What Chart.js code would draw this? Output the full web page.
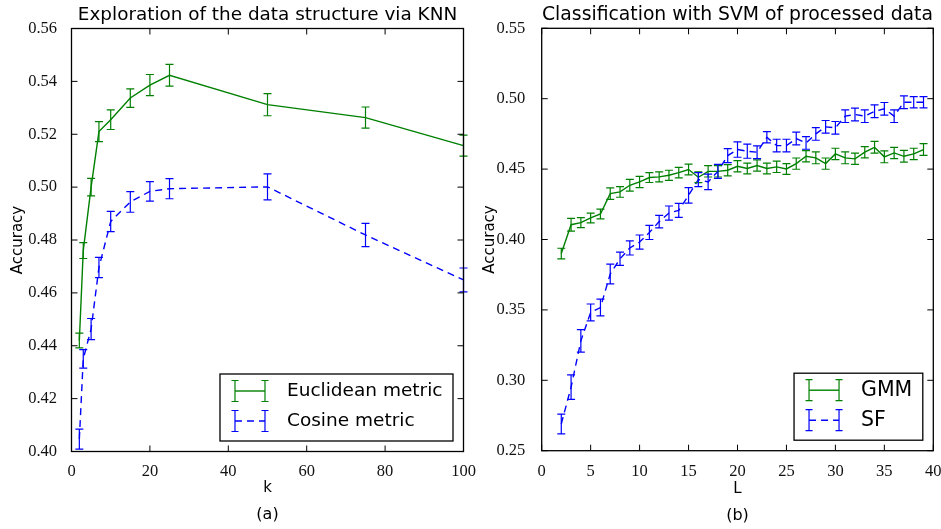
<!DOCTYPE html>
<html><head><meta charset="utf-8">
<script src="https://cdn.jsdelivr.net/npm/chart.js@4.4.0/dist/chart.umd.min.js"></script>
<style>
html,body{margin:0;padding:0;background:#fff;}
#wrap{position:relative;width:941px;height:529px;overflow:hidden;background:#fff;}
.box{position:absolute;top:0;height:529px;}
#ba{left:0;width:490px;}
#bb{left:470px;width:471px;}
canvas{display:block;}
</style></head><body>
<div id="wrap">
  <div class="box" id="ba"><canvas id="ca"></canvas></div>
  <div class="box" id="bb"><canvas id="cb"></canvas></div>
</div>
<script>
// ---------------- data: panel (a) ----------------
const knnK = [2, 3, 5, 7, 10, 15, 20, 25, 50, 75, 100];
const euclideanAcc = [0.442, 0.476, 0.500, 0.521, 0.5255, 0.5337, 0.5386, 0.5423, 0.5312, 0.5263, 0.5157];
const euclideanErr = [0.0028, 0.003, 0.0033, 0.0038, 0.0037, 0.0035, 0.004, 0.0041, 0.0042, 0.004, 0.004];
const cosineAcc = [0.4047, 0.435, 0.4463, 0.4696, 0.487, 0.4944, 0.4984, 0.4994, 0.5001, 0.4819, 0.4649];
const cosineErr = [0.0038, 0.0035, 0.004, 0.0038, 0.0038, 0.0039, 0.0037, 0.0038, 0.0049, 0.0044, 0.0045];
const knnXTicks = [0, 20, 40, 60, 80, 100];
const knnYTicks = [0.40, 0.42, 0.44, 0.46, 0.48, 0.50, 0.52, 0.54, 0.56];

// ---------------- data: panel (b) ----------------
const svmL = [2, 3, 4, 5, 6, 7, 8, 9, 10, 11, 12, 13, 14, 15, 16, 17, 18, 19, 20, 21,
              22, 23, 24, 25, 26, 27, 28, 29, 30, 31, 32, 33, 34, 35, 36, 37, 38, 39];
const gmmAcc = [0.390, 0.4105, 0.412, 0.4153, 0.4181, 0.4326, 0.4338, 0.4385, 0.4409, 0.444,
                0.4445, 0.4456, 0.4475, 0.4497, 0.4442, 0.4484, 0.4484, 0.4492, 0.4520, 0.4504,
                0.4525, 0.4504, 0.4516, 0.4501, 0.4539, 0.4591, 0.4580, 0.4539, 0.4608, 0.4580,
                0.4573, 0.4620, 0.4655, 0.4587, 0.4615, 0.4591, 0.4608, 0.4639];
const gmmErr = [0.0038, 0.0045, 0.0035, 0.0035, 0.0035, 0.0041, 0.0038, 0.0042, 0.004, 0.0035,
                0.0036, 0.0036, 0.0037, 0.0038, 0.0038, 0.004, 0.004, 0.004, 0.004, 0.0038,
                0.004, 0.0038, 0.004, 0.0038, 0.004, 0.004, 0.0042, 0.004, 0.004, 0.0042,
                0.004, 0.004, 0.0042, 0.0042, 0.004, 0.0042, 0.004, 0.0042];
const sfAcc = [0.269, 0.2951, 0.328, 0.3482, 0.3517, 0.3755, 0.3863, 0.394, 0.3982, 0.405,
               0.4127, 0.4188, 0.4207, 0.4314, 0.4425, 0.4409, 0.4484, 0.4596, 0.4639, 0.4627,
               0.462, 0.4726, 0.4667, 0.4667, 0.4717, 0.4686, 0.475, 0.48, 0.4793, 0.4876,
               0.4888, 0.4876, 0.4911, 0.4928, 0.4876, 0.4975, 0.4975, 0.4975];
const sfErr = [0.007, 0.0087, 0.008, 0.006, 0.006, 0.007, 0.0047, 0.005, 0.005, 0.005,
               0.0045, 0.005, 0.005, 0.0055, 0.005, 0.0055, 0.005, 0.005, 0.0055, 0.005,
               0.0045, 0.004, 0.0045, 0.0045, 0.0045, 0.0045, 0.0045, 0.0045, 0.0045, 0.0045,
               0.0045, 0.0045, 0.0045, 0.0045, 0.0045, 0.0045, 0.004, 0.004];
const svmXTicks = [0, 5, 10, 15, 20, 25, 30, 35, 40];
const svmYTicks = [0.25, 0.30, 0.35, 0.40, 0.45, 0.50, 0.55];

// ---------------- styling ----------------
const GREEN = '#008000';
const BLUE = '#0000ff';
const SANS = "'DejaVu Sans', sans-serif";
const SERIF = "'Liberation Serif', 'Times New Roman', serif";
const H = 529;

const errorBarPlugin = {
  id: 'errorBars',
  afterDatasetsDraw(chart) {
    const ctx = chart.ctx, ys = chart.scales.y;
    chart.data.datasets.forEach((ds, i) => {
      if (!ds.errors) return;
      const meta = chart.getDatasetMeta(i);
      ctx.save();
      ctx.strokeStyle = ds.borderColor;
      ctx.lineWidth = 1.2;
      ctx.setLineDash([]);
      ctx.beginPath();
      meta.data.forEach((pt, j) => {
        const v = ds.data[j].y, e = ds.errors[j];
        const y0 = ys.getPixelForValue(v - e), y1 = ys.getPixelForValue(v + e);
        const cx = pt.x, cw = 4;
        ctx.moveTo(cx, y0); ctx.lineTo(cx, y1);
        ctx.moveTo(cx - cw, y0); ctx.lineTo(cx + cw, y0);
        ctx.moveTo(cx - cw, y1); ctx.lineTo(cx + cw, y1);
      });
      ctx.stroke();
      ctx.restore();
    });
  }
};

const frameLegendPlugin = {
  id: 'boxLegend',
  afterDraw(chart, args, opts) {
    const {ctx, chartArea: a, scales: {x, y}} = chart;
    const TL = 6;
    ctx.save();
    // inward ticks on all four sides
    ctx.strokeStyle = '#000';
    ctx.lineWidth = 1;
    ctx.beginPath();
    x.ticks.forEach(t => {
      const px = x.getPixelForValue(t.value);
      ctx.moveTo(px, a.bottom); ctx.lineTo(px, a.bottom - TL);
      ctx.moveTo(px, a.top); ctx.lineTo(px, a.top + TL);
    });
    y.ticks.forEach(t => {
      const py = y.getPixelForValue(t.value);
      ctx.moveTo(a.left, py); ctx.lineTo(a.left + TL, py);
      ctx.moveTo(a.right, py); ctx.lineTo(a.right - TL, py);
    });
    ctx.stroke();
    ctx.lineWidth = 1.3;
    ctx.strokeRect(a.left, a.top, a.right - a.left, a.bottom - a.top);

    // legend box in lower right
    const ds = chart.data.datasets;
    ctx.font = opts.fontSize + 'px ' + SANS;
    const textW = Math.max(...ds.map(d => ctx.measureText(d.label).width));
    const padL = 15, handle = 30, gap = 22, padR = 10.5, h = 67;
    const w = padL + handle + gap + textW + padR;
    const right = a.right - 10.5, bottom = a.bottom - 10.5;
    const left = right - w, top = bottom - h;
    ctx.fillStyle = '#fff';
    ctx.fillRect(left, top, w, h);
    ctx.strokeStyle = '#000';
    ctx.lineWidth = 1.3;
    ctx.strokeRect(left, top, w, h);
    const rows = [top + 17, top + 47];
    ds.forEach((d, i) => {
      const yy = rows[i], x0 = left + padL, x1 = x0 + handle;
      ctx.strokeStyle = d.borderColor;
      ctx.lineWidth = 1.4;
      ctx.setLineDash(d.borderDash || []);
      ctx.beginPath(); ctx.moveTo(x0, yy); ctx.lineTo(x1, yy); ctx.stroke();
      ctx.setLineDash([]);
      ctx.lineWidth = 1.2;
      ctx.beginPath();
      [x0, x1].forEach(xx => {
        ctx.moveTo(xx, yy - 10.5); ctx.lineTo(xx, yy + 10.5);
        ctx.moveTo(xx - 3.5, yy - 10.5); ctx.lineTo(xx + 3.5, yy - 10.5);
        ctx.moveTo(xx - 3.5, yy + 10.5); ctx.lineTo(xx + 3.5, yy + 10.5);
      });
      ctx.stroke();
      ctx.fillStyle = '#000';
      ctx.textBaseline = 'middle';
      ctx.textAlign = 'left';
      ctx.fillText(d.label, x1 + gap, yy);
    });
    ctx.restore();
  }
};

function buildChart(canvasId, spec, L) {
  const titleFont = spec.titleSize, titleLH = titleFont * 1.2;
  const titlePadTop = L.titleMid - titleLH / 2;
  const titlePadBottom = L.plotTop - titlePadTop - titleLH;
  const subLH = 16 * 1.2;
  const subTop = L.panelMid - subLH / 2;
  const subPadBottom = H - subTop - subLH;
  const xAxisHeight = subTop - L.plotBottom;
  const xTitlePadBottom = subTop - L.xLabelMid - 9;

  return new Chart(document.getElementById(canvasId), {
    type: 'line',
    data: {
      datasets: spec.series.map(s => ({
        label: s.label,
        data: spec.xs.map((xv, i) => ({x: xv, y: s.values[i]})),
        errors: s.errors,
        borderColor: s.color,
        backgroundColor: s.color,
        borderWidth: 1.4,
        borderDash: s.dash,
        pointRadius: 0,
        pointHoverRadius: 0,
        tension: 0,
        fill: false
      }))
    },
    options: {
      responsive: true,
      maintainAspectRatio: false,
      animation: false,
      events: [],
      layout: {padding: {left: 0, right: L.width - L.plotRight, top: 0, bottom: 0}},
      plugins: {
        legend: {display: false},
        tooltip: {enabled: false},
        title: {
          display: true, text: spec.title, fullSize: false, color: '#000',
          font: {family: SANS, size: titleFont, weight: 'normal', lineHeight: 1.2},
          padding: {top: titlePadTop, bottom: titlePadBottom}
        },
        subtitle: {
          display: true, text: spec.panel, position: 'bottom', fullSize: false, color: '#000',
          font: {family: SANS, size: 16, weight: 'normal', lineHeight: 1.2},
          padding: {top: 0, bottom: subPadBottom}
        },
        boxLegend: {fontSize: spec.legendSize}
      },
      scales: {
        x: {
          type: 'linear', min: spec.xMin, max: spec.xMax,
          grid: {display: false}, border: {display: false},
          afterBuildTicks: s => { s.ticks = spec.xTicks.map(v => ({value: v})); },
          afterFit: s => { s.height = xAxisHeight; s.paddingLeft = 0; s.paddingRight = 0; },
          ticks: {
            autoSkip: false, maxRotation: 0, minRotation: 0, padding: L.xTickPad, color: '#111',
            font: {family: SERIF, size: 16.5, lineHeight: 1.2},
            callback: v => String(v)
          },
          title: {
            display: true, text: spec.xLabel, color: '#000',
            font: {family: SANS, size: 15, lineHeight: 1.2},
            padding: {top: 0, bottom: xTitlePadBottom}
          }
        },
        y: {
          type: 'linear', min: spec.yMin, max: spec.yMax,
          grid: {display: false}, border: {display: false},
          afterBuildTicks: s => { s.ticks = spec.yTicks.map(v => ({value: v})); },
          afterFit: s => { s.width = L.plotLeft; s.paddingTop = 0; s.paddingBottom = 0; },
          ticks: {
            autoSkip: false, padding: L.yTickPad, color: '#111',
            font: {family: SERIF, size: 16.5, lineHeight: 1.2},
            callback: v => Number(v).toFixed(2)
          },
          title: {
            display: true, text: 'Accuracy', color: '#000',
            font: {family: SANS, size: 15, lineHeight: 1.2},
            padding: {top: L.yLabelMid - 9, bottom: 0}
          }
        }
      }
    },
    plugins: [errorBarPlugin, frameLegendPlugin]
  });
}

buildChart('ca', {
  title: 'Exploration of the data structure via KNN', titleSize: 18.4, legendSize: 18.5,
  panel: '(a)', xLabel: 'k',
  xs: knnK, xMin: 0, xMax: 100, xTicks: knnXTicks,
  yMin: 0.40, yMax: 0.56, yTicks: knnYTicks,
  series: [
    {label: 'Euclidean metric', values: euclideanAcc, errors: euclideanErr, color: GREEN, dash: []},
    {label: 'Cosine metric', values: cosineAcc, errors: cosineErr, color: BLUE, dash: [7, 5]}
  ]
}, {width: 490, plotLeft: 71.5, plotRight: 463.5, plotTop: 28.5, plotBottom: 451.5,
    titleMid: 14.8, panelMid: 515, xLabelMid: 488, yLabelMid: 18.3, xTickPad: 1.9, yTickPad: 6.5});

buildChart('cb', {
  title: 'Classification with SVM of processed data', titleSize: 18.8, legendSize: 20.5,
  panel: '(b)', xLabel: 'L',
  xs: svmL, xMin: 0, xMax: 40, xTicks: svmXTicks,
  yMin: 0.25, yMax: 0.55, yTicks: svmYTicks,
  series: [
    {label: 'GMM', values: gmmAcc, errors: gmmErr, color: GREEN, dash: []},
    {label: 'SF', values: sfAcc, errors: sfErr, color: BLUE, dash: [7, 5]}
  ]
}, {width: 471, plotLeft: 71.7, plotRight: 463.3, plotTop: 28.3, plotBottom: 450.7,
    titleMid: 14.8, panelMid: 516, xLabelMid: 489, yLabelMid: 20, xTickPad: 2.7, yTickPad: 8.4});
</script>
</body></html>
